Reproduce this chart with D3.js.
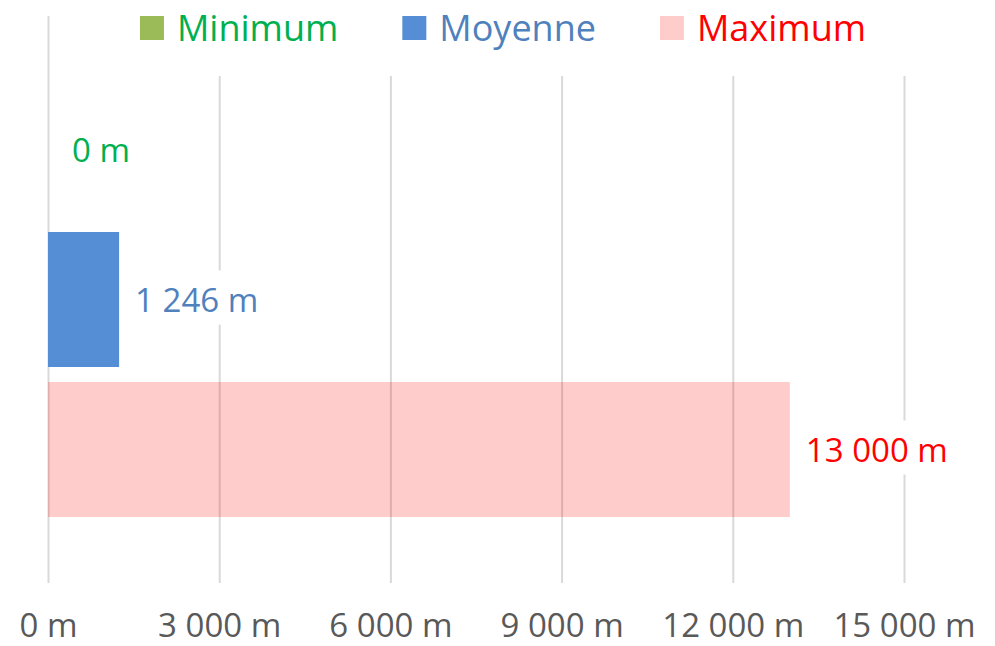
<!DOCTYPE html>
<html>
<head>
<meta charset="utf-8">
<script src="https://cdn.jsdelivr.net/npm/d3@7"></script>
<style>
  html, body { margin: 0; padding: 0; background: #fff; }
  svg { display: block; }
  text { font-family: "Open Sans", "Noto Sans", sans-serif; }
</style>
</head>
<body>
<svg id="chart" width="995" height="646"></svg>
<script>
// ---- data ----
const seriesNames = ["Minimum", "Moyenne", "Maximum"];
const seriesValues = [0, 1246, 13000];
const tickValues = [0, 3000, 6000, 9000, 12000, 15000];
const tickLabels = ["0 m", "3 000 m", "6 000 m", "9 000 m", "12 000 m", "15 000 m"];
const valueLabels = ["0 m", "1 246 m", "13 000 m"];

// ---- styles ----
const barColors = ["#9BBB59", "#558ED5", "rgba(255,0,0,0.2)"];
const textColors = ["#00B050", "#4F81BD", "#FF0000"];
const fontSize = 33;
const legendFontSize = 36;

const svg = d3.select("#chart");
const plot = { left: 48, right: 904, top: 16, bottom: 583 };

const x = d3.scaleLinear().domain([0, 15000]).range([plot.left, plot.right]);
const y = d3.scaleBand().domain(seriesNames).range([plot.top, plot.bottom])
  .paddingInner(0.1).paddingOuter(0.44);

const data = seriesNames.map((n, i) => ({ name: n, value: seriesValues[i], label: valueLabels[i], i }));

// gridlines via axis
const gridAxis = d3.axisBottom(x).tickValues(tickValues).tickSize(-(plot.bottom - plot.top)).tickFormat("");
const g = svg.append("g").attr("transform", `translate(0,${plot.bottom})`).call(gridAxis);
g.select(".domain").remove();
g.selectAll(".tick line").attr("stroke", "#D9D9D9").attr("stroke-width", 2);

// bars
svg.append("g").selectAll("rect").data(data).join("rect")
  .attr("x", x(0))
  .attr("y", d => y(d.name))
  .attr("width", d => x(d.value) - x(0))
  .attr("height", y.bandwidth())
  .attr("fill", d => barColors[d.i]);

// value labels
const lg = svg.append("g").selectAll("g").data(data).join("g")
  .attr("transform", d => `translate(${x(d.value) + (d.value === 0 ? 24 : 16)},${y(d.name) + y.bandwidth() / 2 + 12})`);
lg.each(function(d) {
  const gg = d3.select(this);
  const bg = gg.append("rect").attr("fill", "#fff");
  const t = gg.append("text").attr("x", 0).attr("y", 0)
    .attr("font-size", fontSize).attr("fill", textColors[d.i]).text(d.label);
  const bb = t.node().getBBox();
  bg.attr("x", bb.x - 8).attr("y", -41).attr("width", bb.width + 16).attr("height", 54);
});

// x tick labels
const tickAxis = d3.axisBottom(x).tickValues(tickValues).tickSize(0).tickPadding(0)
  .tickFormat((d, i) => tickLabels[i]);
const ta = svg.append("g").attr("transform", `translate(0,637)`).call(tickAxis);
ta.select(".domain").remove();
ta.selectAll("text").attr("font-size", fontSize).attr("fill", "#595959")
  .attr("font-family", "'Open Sans', 'Noto Sans', sans-serif")
  .attr("dy", 0).attr("y", 0);

// legend
svg.append("rect").attr("x", 60).attr("y", 0).attr("width", 875).attr("height", 76).attr("fill", "#fff");
const leg = svg.append("g");
const sq = 24, gapTxt = 13, gapItem = 64;
const items = leg.selectAll("g").data(data).join("g");
items.append("rect").attr("x", 0).attr("y", 16).attr("width", sq).attr("height", sq)
  .attr("fill", d => barColors[d.i]);
items.append("text").attr("x", sq + gapTxt).attr("y", 41)
  .attr("font-size", legendFontSize).attr("fill", d => textColors[d.i]).text(d => d.name);
let widths = [];
items.each(function() { widths.push(this.getBBox().width); });
const total = d3.sum(widths) + gapItem * (widths.length - 1);
let cx = 503 - total / 2;
items.attr("transform", (d, i) => { const tx = cx; cx += widths[i] + gapItem; return `translate(${tx},0)`; });
</script>
</body>
</html>
